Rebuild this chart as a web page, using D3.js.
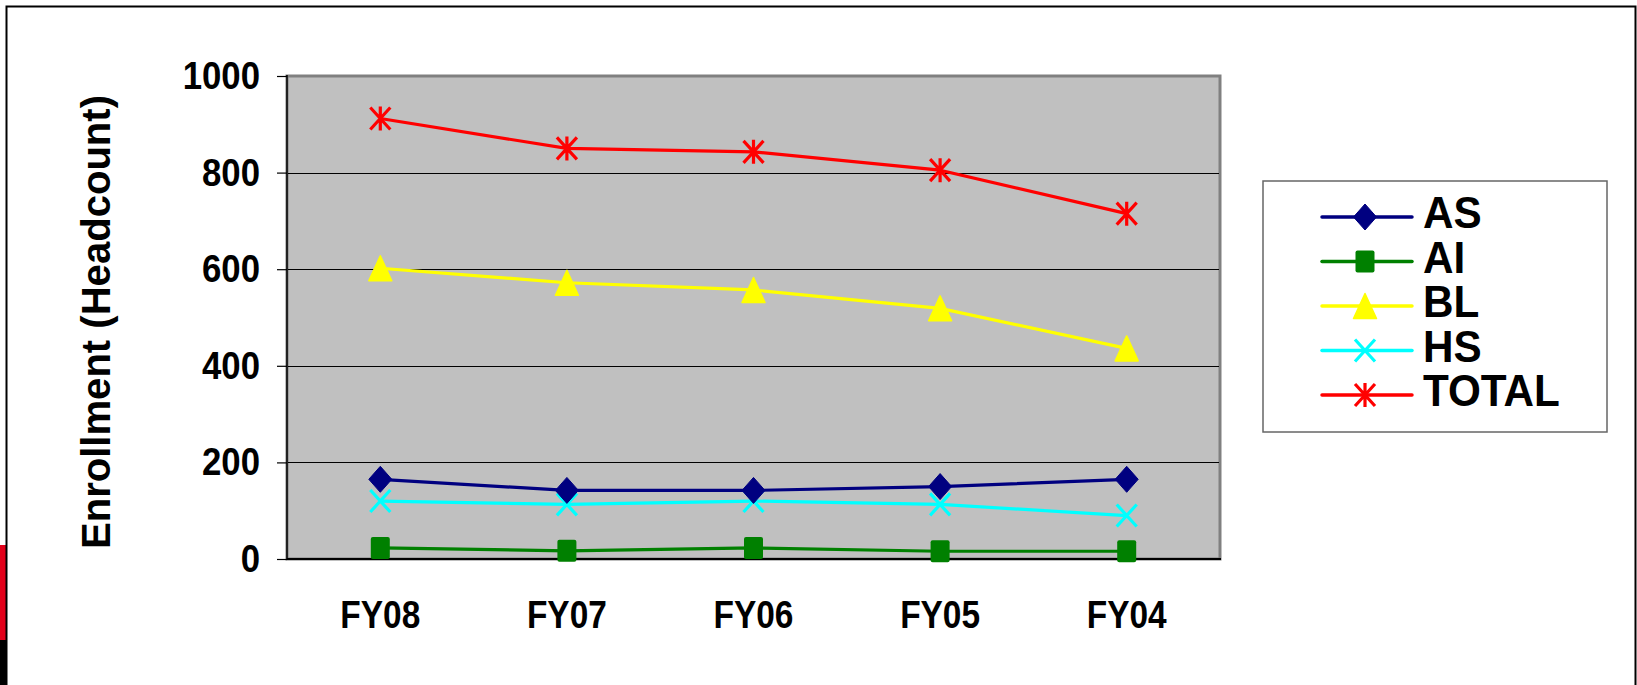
<!DOCTYPE html>
<html>
<head>
<meta charset="utf-8">
<script src="https://cdn.jsdelivr.net/npm/d3@7"></script>
<style>
  body { margin: 0; background: #fff; }
  svg { display: block; }
  text { font-family: "Liberation Sans", Arial, sans-serif; font-weight: bold; fill: #000; }
</style>
</head>
<body>
<svg width="1637" height="685"></svg>
<script>
// fiscal years, left to right as in the slide
const years = ["FY08", "FY07", "FY06", "FY05", "FY04"];
const seriesNames = ["AS", "AI", "BL", "HS", "TOTAL"];
const AS = [165, 142, 142, 150, 165];
const AI = [23, 17, 23, 16, 16];
const BL = [602, 572, 557, 519, 436];
const HS = [120, 113, 120, 113, 90];
const TOTAL = [912, 850, 843, 805, 715];
const yTicks = [0, 200, 400, 600, 800, 1000];

const values = { AS: AS, AI: AI, BL: BL, HS: HS, TOTAL: TOTAL };

const color = d3.scaleOrdinal()
  .domain(seriesNames)
  .range(["#000080", "#008000", "#ffff00", "#00ffff", "#ff0000"]);

const svg = d3.select("svg");

// slide frame + the little red/black strip at bottom left
svg.append("rect").attr("x", 0).attr("y", 545).attr("width", 6).attr("height", 95).attr("fill", "#e2001a");
svg.append("rect").attr("x", 0).attr("y", 640).attr("width", 6).attr("height", 45).attr("fill", "#000");
svg.append("path")
  .attr("d", "M6.5,690 V6.5 H1635.5 V690")
  .attr("fill", "none").attr("stroke", "#000").attr("stroke-width", 2);

const pLeft = 287, pRight = 1220, pTop = 76, pBottom = 559;

const x = d3.scaleBand().domain(years).range([pLeft, pRight]);
const y = d3.scaleLinear().domain([0, 1000]).range([pBottom, pTop]);
const cx = d => x(d) + x.bandwidth() / 2;

// plot area
svg.append("rect")
  .attr("x", pLeft).attr("y", pTop)
  .attr("width", pRight - pLeft).attr("height", pBottom - pTop)
  .attr("fill", "#c0c0c0")
  .attr("stroke", "#808080").attr("stroke-width", 3);

svg.append("g")
  .selectAll("line")
  .data(yTicks.filter(d => d > 0 && d < 1000))
  .join("line")
    .attr("x1", pLeft).attr("x2", pRight - 1)
    .attr("y1", d => Math.round(y(d)) + 0.5).attr("y2", d => Math.round(y(d)) + 0.5)
    .attr("stroke", "#000").attr("stroke-width", 1);

// axes lines
svg.append("line").attr("x1", pLeft).attr("x2", pLeft).attr("y1", pTop - 1).attr("y2", pBottom + 1)
  .attr("stroke", "#222").attr("stroke-width", 2);
svg.append("line").attr("x1", pLeft).attr("x2", pRight + 1).attr("y1", pBottom).attr("y2", pBottom)
  .attr("stroke", "#000").attr("stroke-width", 2);

// y axis
const yAxis = svg.append("g")
  .attr("transform", `translate(${pLeft},0)`)
  .call(d3.axisLeft(y).tickValues(yTicks).tickSize(10).tickFormat(d3.format("d")));
yAxis.select(".domain").remove();
yAxis.selectAll(".tick line").attr("stroke", "#000").attr("stroke-width", 1.2);
yAxis.selectAll(".tick text")
  .attr("x", null).attr("dy", null)
  .attr("font-size", 39.5)
  .attr("font-family", null)
  .attr("transform", "translate(-27,12.5) scale(0.88,1)");

// x labels
svg.append("g")
  .selectAll("text")
  .data(years)
  .join("text")
    .attr("text-anchor", "middle")
    .attr("font-size", 38)
    .attr("transform", d => `translate(${cx(d)},628) scale(0.88,1)`)
    .text(d => d);

// y title
svg.append("text")
  .attr("transform", "translate(110,322) rotate(-90)")
  .attr("text-anchor", "middle")
  .attr("font-size", 40)
  .attr("textLength", 454)
  .attr("lengthAdjust", "spacingAndGlyphs")
  .text("Enrollment (Headcount)");

// marker shapes
function marker(g, name, c) {
  if (name === "AS") {
    g.append("path").attr("d", "M0,-13 L11.5,0 L0,13 L-11.5,0 Z").attr("fill", c)
      .attr("stroke", c).attr("stroke-width", 1).attr("stroke-linejoin", "round");
  } else if (name === "AI") {
    g.append("rect").attr("x", -9.5).attr("y", -11).attr("width", 19).attr("height", 22)
      .attr("rx", 2).attr("fill", c);
  } else if (name === "BL") {
    g.append("path").attr("d", "M0,-12.5 L11.5,12.5 L-11.5,12.5 Z").attr("fill", c)
      .attr("stroke", c).attr("stroke-width", 1.5).attr("stroke-linejoin", "round");
  } else if (name === "HS") {
    g.append("path").attr("d", "M-10,-11 L10,11 M10,-11 L-10,11").attr("stroke", c)
      .attr("stroke-width", 3.2).attr("fill", "none");
  } else {
    g.append("path").attr("d", "M-10,-11 L10,11 M10,-11 L-10,11 M0,-12 V12").attr("stroke", c)
      .attr("stroke-width", 3.2).attr("fill", "none");
  }
}

const line = d3.line()
  .x((d, i) => cx(years[i]))
  .y(d => y(d));

// draw series (TOTAL first so lower lines sit above as in the slide)
const order = ["TOTAL", "BL", "HS", "AS", "AI"];
order.forEach(function(name) {
  const g = svg.append("g");
  g.append("path")
    .datum(values[name])
    .attr("d", line)
    .attr("fill", "none")
    .attr("stroke", color(name))
    .attr("stroke-width", 3.2)
    .attr("stroke-linejoin", "round");
  values[name].forEach(function(v, i) {
    const m = g.append("g").attr("transform", `translate(${cx(years[i])},${y(v)})`);
    marker(m, name, color(name));
  });
});

// legend
const legend = svg.append("g");
legend.append("rect")
  .attr("x", 1263).attr("y", 181).attr("width", 344).attr("height", 251)
  .attr("fill", "#fff").attr("stroke", "#666").attr("stroke-width", 1.5);

const item = legend.selectAll("g.item")
  .data(seriesNames)
  .join("g")
    .attr("class", "item")
    .attr("transform", (d, i) => `translate(0,${217 + i * 44.5})`);

item.append("line")
  .attr("x1", 1322).attr("x2", 1412)
  .attr("stroke", d => color(d)).attr("stroke-width", 3.5).attr("stroke-linecap", "round");
item.each(function(d) {
  const m = d3.select(this).append("g").attr("transform", "translate(1365,0)");
  marker(m, d, color(d));
});
item.append("text")
  .attr("font-size", 44)
  .attr("transform", "translate(1423,11) scale(0.96,1)")
  .text(d => d);
</script>
</body>
</html>
